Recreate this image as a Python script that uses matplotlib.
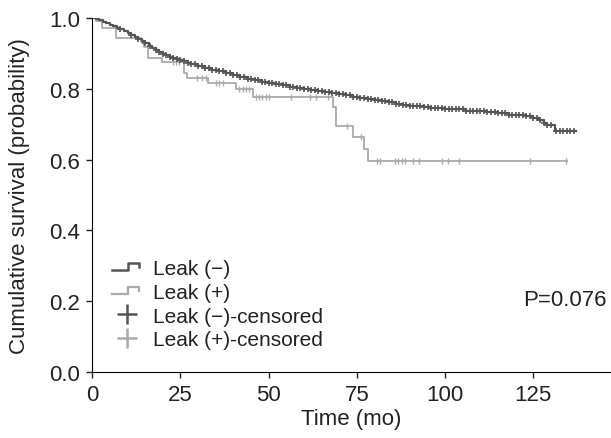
import numpy as np
import matplotlib
matplotlib.use("Agg")
import matplotlib.pyplot as plt
from matplotlib.lines import Line2D
from matplotlib.legend_handler import HandlerBase

plt.rcParams['font.family'] = ['Liberation Sans', 'DejaVu Sans']

# Leak (-) : Kaplan-Meier step curve
neg_t = [0, 1, 2, 3, 4, 5, 6, 7, 8, 9, 10, 11, 12, 13, 14, 15, 16, 17, 18, 19,
         20, 21, 22, 23, 24, 25, 26, 27, 28, 30, 32, 34, 36, 38, 40, 42, 44, 46,
         48, 50, 52, 54, 56, 58, 60, 62, 64, 66, 68, 70, 72, 74, 76, 78, 80, 82,
         84, 86, 88, 90, 92, 94, 96, 98, 100, 103, 106, 109, 112, 115, 118, 121,
         123, 125, 126.5, 128, 129, 131]
neg_s = [1.0, 0.997, 0.993, 0.989, 0.985, 0.981, 0.977, 0.972, 0.968, 0.963,
         0.958, 0.953, 0.947, 0.941, 0.935, 0.928, 0.922, 0.916, 0.910, 0.904,
         0.899, 0.894, 0.890, 0.886, 0.883, 0.880, 0.877, 0.873, 0.869, 0.864,
         0.859, 0.854, 0.849, 0.843, 0.838, 0.833, 0.828, 0.824, 0.820, 0.816,
         0.813, 0.810, 0.806, 0.803, 0.799, 0.796, 0.793, 0.790, 0.787, 0.784,
         0.781, 0.778, 0.775, 0.772, 0.769, 0.766, 0.762, 0.758, 0.755, 0.752,
         0.750, 0.748, 0.746, 0.745, 0.744, 0.743, 0.737, 0.736, 0.734, 0.732,
         0.727, 0.725, 0.722, 0.718, 0.712, 0.703, 0.697, 0.682]
neg_end = 137
neg_cens = [8, 11, 13, 15, 16.5, 18, 19, 20, 21, 22, 23, 24, 25, 26, 27, 28, 29,
            30, 31, 32, 33, 34, 35, 36, 37, 38, 39, 40, 41, 42, 43, 44, 45, 46,
            47, 48, 49, 50, 51, 52, 53, 54, 55, 56, 57, 58, 59, 60, 61, 62, 63,
            64, 65, 66, 67, 68, 69, 70, 71, 72, 73, 74, 75, 76, 77, 78, 79, 80,
            81, 82, 83, 84, 85, 86, 87, 88, 89, 90, 91, 92, 93, 94, 95, 96, 97,
            98, 99, 100, 101, 102, 103, 104, 105, 106, 107, 108, 109, 110, 111,
            112, 113, 114, 115, 116, 117, 118, 119, 120, 121, 122, 123, 124,
            125, 126, 127, 128, 129, 130, 131.5, 132.5, 133.5, 134.5, 135.5, 136.5]

# Leak (+)
pos_t = [0, 1, 2.7, 6.7, 13.8, 14.8, 15.9, 19.8, 25.9, 26.8, 32.8, 40.8, 45.5,
         68.3, 69, 74, 77, 78]
pos_s = [1.0, 0.99, 0.971, 0.943, 0.933, 0.917, 0.888, 0.875, 0.845, 0.830,
         0.815, 0.799, 0.777, 0.748, 0.696, 0.665, 0.630, 0.595]
pos_end = 134.6
pos_cens = [22.8, 23.8, 24.7, 29.7, 31.1, 32.1, 35, 36, 37, 41.7, 42.6, 43.5,
            44.5, 46.4, 47.3, 48.2, 49.2, 50.1, 56.4, 61.6, 63.5, 66.8, 72.1,
            76.1, 80.6, 81.6, 85.7, 86.7, 87.8, 88.7, 90.8, 92.7, 99, 100.9,
            104, 124.1, 134.3]

dark = '#555555'
light = '#aaaaaa'
txt = '#222222'
fs = 16


def km_value(times, surv, t):
    idx = np.searchsorted(times, t, side='right') - 1
    return np.asarray(surv)[idx]


class StepHandler(HandlerBase):
    def create_artists(self, legend, orig_handle, xdescent, ydescent,
                       width, height, fontsize, trans):
        x0 = -xdescent + width * 0.1
        x1 = x0 + width * 0.75
        xm = x0 + width * 0.45
        yl = -ydescent + height * 0.3
        yh = -ydescent + height * 0.75
        ln = Line2D([x0, xm, xm, x1, x1], [yl, yl, yh, yh, yl + 0.2 * height],
                    color=orig_handle.get_color(),
                    linewidth=orig_handle.get_linewidth(), transform=trans)
        return [ln]


fig = plt.figure(figsize=(6.11, 4.39), dpi=100)
ax = fig.add_axes([0.151, 0.150, 0.849, 0.807])

ax.step(pos_t + [pos_end], pos_s + [pos_s[-1]], where='post', color=light, lw=1.3)
ax.step(neg_t + [neg_end], neg_s + [neg_s[-1]], where='post', color=dark, lw=1.6)
ax.plot(pos_cens, km_value(pos_t, pos_s, pos_cens), linestyle='none',
        marker='|', ms=4, mew=1.0, color=light)
ax.plot(neg_cens, km_value(neg_t, neg_s, neg_cens), linestyle='none',
        marker='+', ms=5, mew=1.2, color=dark)

ax.set_xlim(0, 147)
ax.set_ylim(0, 1.0)
ax.set_xticks([0, 25, 50, 75, 100, 125])
ax.set_yticks([0.0, 0.2, 0.4, 0.6, 0.8, 1.0])
ax.set_yticklabels(['0.0', '0.2', '0.4', '0.6', '0.8', '1.0'])
ax.spines['top'].set_visible(False)
ax.spines['right'].set_visible(False)
ax.tick_params(labelsize=fs, length=4, width=1, colors=txt, pad=4.5)
ax.set_xlabel('Time (mo)', fontsize=fs, color=txt, labelpad=2)
ax.set_ylabel('Cumulative survival (probability)', fontsize=fs,
              color=txt, labelpad=14)

h_neg = Line2D([], [], color=dark, lw=1.8)
h_pos = Line2D([], [], color=light, lw=1.6)
h_negc = Line2D([], [], color=dark, lw=0, marker='+', ms=15, mew=1.8)
h_posc = Line2D([], [], color=light, lw=0, marker='+', ms=15, mew=1.8)
ax.legend([h_neg, h_pos, h_negc, h_posc],
          ['Leak (\u2212)', 'Leak (+)', 'Leak (\u2212)-censored', 'Leak (+)-censored'],
          handler_map={h_neg: StepHandler(), h_pos: StepHandler()},
          loc='lower left', bbox_to_anchor=(0.0, 0.018), frameon=False,
          fontsize=15, handlelength=1.7, handletextpad=0.4, labelspacing=0.22,
          borderaxespad=0.4, labelcolor=txt)

ax.text(122, 0.205, 'P=0.076', fontsize=fs, color=txt, va='center')

fig.savefig('out.png', dpi=100)
